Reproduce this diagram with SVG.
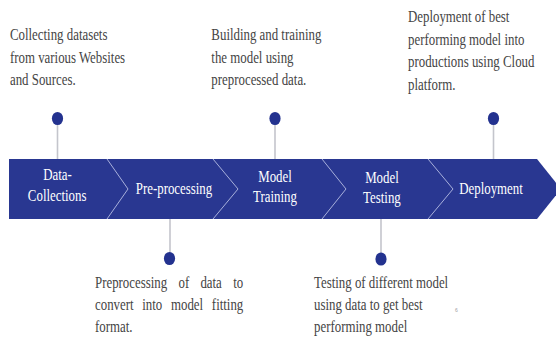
<svg xmlns="http://www.w3.org/2000/svg" width="556" height="338" viewBox="0 0 556 338">
  <style>
    .txt { font-family: "Liberation Serif", "Times New Roman", serif; font-size: 16.5px; fill: #454545; }
    .lbl { font-family: "Liberation Serif", "Times New Roman", serif; font-size: 16.5px; fill: #ffffff; text-anchor: middle; }
    .end { text-anchor: end; }
    .dot { fill: #23328f; }
    .stem { stroke: #c4c5cc; stroke-width: 1.6; fill: none; }
    .sep { stroke: #a8b0dc; stroke-width: 1; fill: none; }
  </style>
  <rect width="556" height="338" fill="#ffffff"/>

  <!-- arrow band -->
  <g id="band">
    <polygon points="9,159 537,159 561,189 537,219 9,219" fill="#293791"/>
    <polyline class="sep" points="107,159 128,189 107,219"/>
    <polyline class="sep" points="213,159 238,189 213,219"/>
    <polyline class="sep" points="322,159 346,189 322,219"/>
    <polyline class="sep" points="428,159 453,189 428,219"/>
  </g>

  <!-- stems from band to markers -->
  <g id="connectors">
    <line class="stem" x1="57.5" y1="124" x2="57.5" y2="159"/>
    <line class="stem" x1="275" y1="124" x2="275" y2="159"/>
    <line class="stem" x1="493.5" y1="124" x2="493.5" y2="159"/>
    <line class="stem" x1="170" y1="219" x2="170" y2="253"/>
    <line class="stem" x1="381" y1="219" x2="381" y2="254"/>
  </g>

  <g id="data-collections">
    <ellipse class="dot" cx="57.5" cy="118.5" rx="5.6" ry="6.6"/>
    <g transform="scale(0.78 1)">
      <text class="lbl" x="73.7" y="180.5">Data-</text>
      <text class="lbl" x="73.3" y="201">Collections</text>
      <text class="txt" x="12.8" y="40.5">Collecting datasets</text>
      <text class="txt" x="12.8" y="63">from various Websites</text>
      <text class="txt" x="12.8" y="85.5">and Sources.</text>
    </g>
  </g>

  <g id="pre-processing">
    <ellipse class="dot" cx="169.5" cy="258.5" rx="5.6" ry="6.6"/>
    <g transform="scale(0.78 1)">
      <text class="lbl" x="223.1" y="194">Pre-processing</text>
      <text class="txt" y="288.5"><tspan x="121.8">Preprocessing</tspan><tspan x="228.8">of</tspan><tspan x="256.9">data</tspan></text>
      <text class="txt end" x="311.9" y="288.5">to</text>
      <text class="txt" y="310.5"><tspan x="121.8">convert</tspan><tspan x="182.4">into</tspan><tspan x="219.2">model</tspan></text>
      <text class="txt end" x="311.9" y="310.5">fitting</text>
      <text class="txt" x="121.8" y="332.5">format.</text>
    </g>
  </g>

  <g id="model-training">
    <ellipse class="dot" cx="275" cy="118.5" rx="5.6" ry="6.6"/>
    <g transform="scale(0.78 1)">
      <text class="lbl" x="352.6" y="182">Model</text>
      <text class="lbl" x="352.6" y="202.5">Training</text>
      <text class="txt" x="271" y="40.5">Building and training</text>
      <text class="txt" x="271" y="63">the model using</text>
      <text class="txt" x="271" y="85.5">preprocessed data.</text>
    </g>
  </g>

  <g id="model-testing">
    <ellipse class="dot" cx="381" cy="259" rx="5.6" ry="6.6"/>
    <g transform="scale(0.78 1)">
      <text class="lbl" x="489.7" y="183">Model</text>
      <text class="lbl" x="489.7" y="203.5">Testing</text>
      <text class="txt" x="402.6" y="288.5">Testing of different model</text>
      <text class="txt" x="402.6" y="310.5">using data to get best</text>
      <text class="txt" x="402.6" y="332.5">performing model</text>
    </g>
  </g>

  <g id="deployment">
    <ellipse class="dot" cx="493.5" cy="118.5" rx="5.6" ry="6.6"/>
    <g transform="scale(0.78 1)">
      <text class="lbl" x="629.5" y="194">Deployment</text>
      <text class="txt" x="523.1" y="22.5">Deployment of best</text>
      <text class="txt" x="523.1" y="45">performing model into</text>
      <text class="txt" x="523.1" y="67.5">productions using Cloud</text>
      <text class="txt" x="523.1" y="90">platform.</text>
    </g>
  </g>

  <text x="456.5" y="312" font-family="Liberation Sans, Arial, sans-serif" font-size="5" fill="#a0a0a0" text-anchor="middle">6</text>
</svg>
